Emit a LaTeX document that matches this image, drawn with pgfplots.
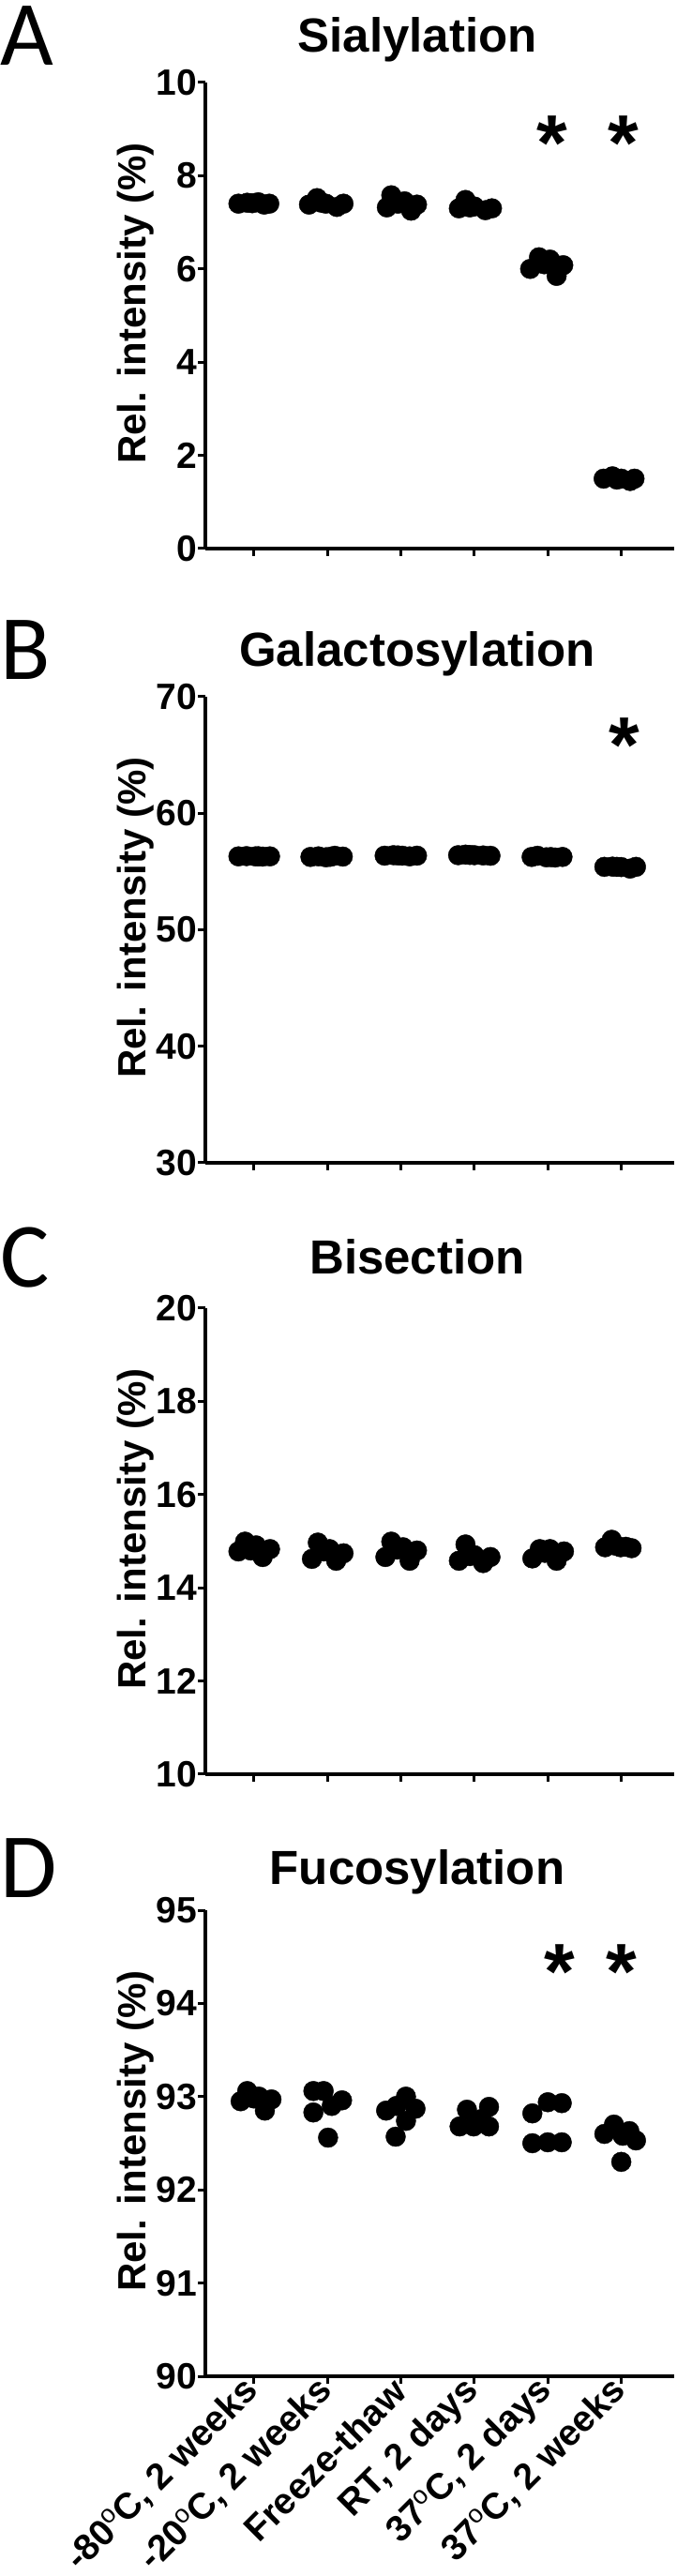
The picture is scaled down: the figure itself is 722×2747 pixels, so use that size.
\documentclass[border=0pt]{standalone}
\usepackage{fontspec}
\setmainfont{Liberation Sans}
\newfontfamily\letterfont{Carlito}
\usepackage{pgfplots}
\pgfplotsset{compat=1.18}

% all lengths in pt = pixels of the 722x2747 reference
\pgfplotsset{
  panel/.style={
    scale only axis, width=500pt, height=497pt,
    xmin=-0.66, xmax=5.72,
    axis lines=left, axis line style={-, line width=3.5pt},
    tick align=outside, major tick length=8pt,
    every tick/.style={black, line width=3pt},
    xtick={0,1,2,3,4,5}, xticklabels={},
    tick label style={font=\fontsize{39}{39}\selectfont\bfseries},
    yticklabel style={inner sep=1pt},
    /pgf/number format/assume math mode=true,
    ylabel={Rel. intensity (\%)},
    ylabel style={font=\fontsize{42}{42}\selectfont\bfseries,
      at={(axis description cs:-0.148,0.526)}, anchor=center},
    clip=false,
  },
  dots/.style={only marks, mark=*, mark size=10.5pt,
    mark options={draw=black, fill=black}},
}
\newcommand\sigstar{\fontsize{84}{84}\selectfont\bfseries *}
\newcommand\dg{\raisebox{0.34em}{\fontsize{27}{27}\selectfont\mdseries o}}

\begin{document}
\begin{tikzpicture}
\useasboundingbox (0,0) rectangle (722pt,2747pt);

% A: sialylation
\begin{axis}[panel, at={(219pt,2162pt)}, anchor=south west,
  ymin=0, ymax=10, ytick={0,2,...,10}]
\addplot[dots] coordinates {
  (-0.21,7.40) (-0.09,7.42) (0.06,7.43) (0.21,7.40) (0.14,7.38) (-0.02,7.41)
  (0.75,7.38) (0.86,7.52) (0.98,7.40) (1.13,7.33) (1.22,7.40) (0.92,7.42)
  (1.81,7.32) (1.87,7.58) (2.05,7.45) (2.14,7.25) (2.22,7.38) (1.96,7.40)
  (2.79,7.30) (2.88,7.48) (3.00,7.34) (3.15,7.26) (3.24,7.30) (2.94,7.32)
  (3.76,6.00) (3.88,6.25) (4.03,6.20) (4.12,5.85) (4.21,6.08) (3.95,6.10)
  (4.76,1.50) (4.88,1.55) (5.00,1.50) (5.12,1.45) (5.18,1.50) (4.94,1.48)
};
\node[anchor=base] at (axis cs:4.06,8.12) {\sigstar};
\node[anchor=base] at (axis cs:5.03,8.12) {\sigstar};
\end{axis}

% B: galactosylation
\begin{axis}[panel, at={(219pt,1507pt)}, anchor=south west,
  ymin=30, ymax=70, ytick={30,40,...,70}]
\addplot[dots] coordinates {
  (-0.21,56.30) (-0.10,56.32) (0.02,56.30) (0.12,56.28) (0.22,56.30) (0.06,56.31)
  (0.77,56.25) (0.88,56.30) (0.98,56.22) (1.10,56.35) (1.21,56.28) (1.04,56.26)
  (1.78,56.36) (1.90,56.40) (2.02,56.36) (2.12,56.30) (2.22,56.36) (1.96,56.38)
  (2.78,56.40) (2.88,56.45) (3.00,56.40) (3.12,56.38) (3.22,56.35) (2.94,56.42)
  (3.78,56.25) (3.86,56.35) (3.98,56.22) (4.10,56.20) (4.20,56.25) (4.04,56.24)
  (4.77,55.40) (4.88,55.42) (5.00,55.38) (5.12,55.25) (5.20,55.40) (4.94,55.40)
};
\node[anchor=base] at (axis cs:5.04,63.5) {\sigstar};
\end{axis}

% C: bisection
\begin{axis}[panel, at={(219pt,855pt)}, anchor=south west,
  ymin=10, ymax=20, ytick={10,12,...,20}]
\addplot[dots] coordinates {
  (-0.21,14.78) (-0.12,14.99) (0.03,14.91) (0.12,14.66) (0.22,14.83) (-0.04,14.80)
  (0.79,14.62) (0.87,14.97) (1.03,14.83) (1.12,14.58) (1.22,14.74) (0.95,14.78)
  (1.79,14.66) (1.87,14.99) (2.03,14.87) (2.12,14.58) (2.22,14.80) (1.95,14.82)
  (2.79,14.58) (2.88,14.93) (3.00,14.70) (3.12,14.53) (3.22,14.66) (2.94,14.68)
  (3.79,14.63) (3.89,14.83) (4.03,14.83) (4.12,14.58) (4.22,14.78) (3.96,14.75)
  (4.78,14.87) (4.87,15.03) (4.99,14.87) (5.14,14.85) (5.06,14.88) (4.93,14.90)
};
\end{axis}

% D: fucosylation
\begin{axis}[panel, at={(219pt,213pt)}, anchor=south west,
  ymin=90, ymax=95, ytick={90,91,...,95},
  xticklabels={{-80\dg C, 2 weeks}, {-20\dg C, 2 weeks}, {Freeze-thaw},
    {RT, 2 days}, {37\dg C, 2 days}, {37\dg C, 2 weeks}},
  xticklabel style={rotate=45, anchor=east, inner sep=2pt}]
\addplot[dots] coordinates {
  (-0.18,92.95) (-0.09,93.06) (0.07,93.00) (0.15,92.85) (0.24,92.97) (0.00,92.98)
  (0.81,93.06) (0.95,93.06) (1.20,92.96) (1.06,92.90) (0.81,92.83) (1.01,92.56)
  (1.80,92.85) (1.94,92.90) (2.07,93.00) (2.20,92.87) (2.07,92.74) (1.93,92.57)
  (2.80,92.68) (2.90,92.86) (2.99,92.68) (3.20,92.89) (3.20,92.68) (3.10,92.76)
  (3.79,92.82) (4.00,92.94) (4.19,92.93) (3.79,92.50) (4.00,92.51) (4.19,92.51)
  (4.77,92.60) (4.90,92.70) (5.11,92.63) (5.20,92.53) (5.00,92.30) (5.02,92.58)
};
\node[anchor=base] at (axis cs:4.16,94.05) {\sigstar};
\node[anchor=base] at (axis cs:5.00,94.05) {\sigstar};
\end{axis}

% titles and panel letters
\begin{scope}[every node/.style={font=\fontsize{51}{51}\selectfont\bfseries, anchor=base}]
\node at (445pt,2691pt) {Sialylation};
\node at (445pt,2036pt) {Galactosylation};
\node at (445pt,1388pt) {Bisection};
\node at (445pt,737pt) {Fucosylation};
\end{scope}
\begin{scope}[every node/.style={font=\fontsize{98}{98}\selectfont\letterfont, anchor=base west, inner sep=0pt}]
\node at (0pt,2677pt) {A};
\node at (0pt,2022pt) {B};
\node at (0pt,1374pt) {C};
\node at (0pt,723pt) {D};
\end{scope}
\end{tikzpicture}
\end{document}
